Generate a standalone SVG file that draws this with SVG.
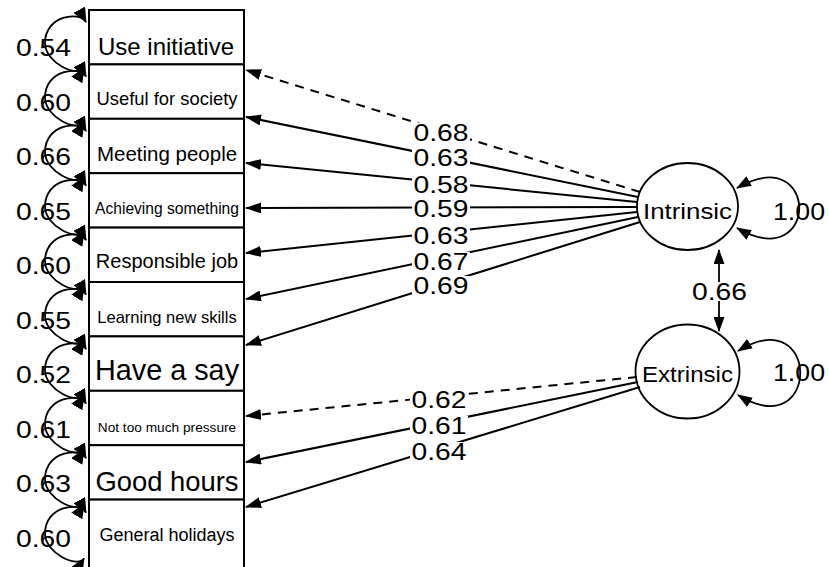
<svg xmlns="http://www.w3.org/2000/svg" xmlns:xlink="http://www.w3.org/1999/xlink" width="829" height="567" viewBox="0 0 829 567">
<style>
text{font-family:"Liberation Sans",Arial,sans-serif;fill:#000;text-anchor:middle}
.box{fill:#fff;stroke:#000;stroke-width:2}
.lat{fill:#fff;stroke:#000;stroke-width:1.8}
.e{fill:none;stroke:#000;stroke-width:2;marker-end:url(#ah)}
.d{stroke-dasharray:9 7}
.b{fill:none;stroke:#000;stroke-width:1.8;marker-start:url(#ah2);marker-end:url(#ah2)}
.r{fill:none;stroke:#000;stroke-width:1.8;marker-start:url(#ah3);marker-end:url(#ah3)}
.num{font-size:23.5px}
.res{font-size:24.5px}
.bg{fill:#fff}
</style>
<defs>
<marker id="ah" viewBox="0 0 16 11" refX="15" refY="5.5" markerWidth="16" markerHeight="11" markerUnits="userSpaceOnUse" orient="auto-start-reverse"><path d="M0,0 L16,5.5 L0,11 z" fill="#000"/></marker>
<marker id="ah2" viewBox="0 0 15 11" refX="14" refY="5.5" markerWidth="15" markerHeight="11" markerUnits="userSpaceOnUse" orient="auto-start-reverse"><path d="M0,0 L15,5.5 L0,11 z" fill="#000"/></marker>
<marker id="ah3" viewBox="0 0 15 13" refX="14" refY="6.5" markerWidth="15" markerHeight="13" markerUnits="userSpaceOnUse" orient="auto-start-reverse"><path d="M0,0 L15,6.5 L0,13 z" fill="#000"/></marker>
<path id="loop" class="r" d="M86,-25 C80,-36 45,-32 45,-4 C45,16 78,31 84,21"/>
</defs>

<g id="nodes">
<g id="n1"><rect class="box" x="89" y="10" width="155" height="54.4"/><text x="166" y="54.5" font-size="24">Use initiative</text></g>
<g id="n2"><rect class="box" x="89" y="64.4" width="155" height="54.4"/><text x="167" y="105" font-size="18.4">Useful for society</text></g>
<g id="n3"><rect class="box" x="89" y="118.8" width="155" height="54.4"/><text x="167" y="160.5" font-size="20.5">Meeting people</text></g>
<g id="n4"><rect class="box" x="89" y="173.2" width="155" height="54.4"/><text x="167" y="214" font-size="15.6">Achieving something</text></g>
<g id="n5"><rect class="box" x="89" y="227.6" width="155" height="54.4"/><text x="167" y="268" font-size="20">Responsible job</text></g>
<g id="n6"><rect class="box" x="89" y="282" width="155" height="54.4"/><text x="167" y="322.5" font-size="16.5">Learning new skills</text></g>
<g id="n7"><rect class="box" x="89" y="336.4" width="155" height="54.4"/><text x="167" y="380" font-size="28.8">Have a say</text></g>
<g id="n8"><rect class="box" x="89" y="390.8" width="155" height="54.4"/><text x="167" y="432" font-size="13.7">Not too much pressure</text></g>
<g id="n9"><rect class="box" x="89" y="445.2" width="155" height="54.4"/><text x="167" y="491" font-size="27.4">Good hours</text></g>
<g id="n10"><rect class="box" x="89" y="499.6" width="155" height="80"/><text x="167" y="541" font-size="18">General holidays</text></g>
<g id="intrinsic"><ellipse class="lat" cx="687.5" cy="206.5" rx="50.5" ry="43.5"/><text x="687.5" y="219" font-size="22" textLength="89" lengthAdjust="spacingAndGlyphs">Intrinsic</text></g>
<g id="extrinsic"><ellipse class="lat" cx="687.5" cy="371.5" rx="52" ry="47"/><text x="687.5" y="381.5" font-size="22" textLength="91" lengthAdjust="spacingAndGlyphs">Extrinsic</text></g>
</g>

<g id="connectors">
<path class="e d" d="M640,192 L246,70"/>
<path class="e" d="M638,197 L246,117"/>
<path class="e" d="M637,202 L246,163"/>
<path class="e" d="M637,207 L246,208"/>
<path class="e" d="M637,212 L246,253"/>
<path class="e" d="M638,217 L246,299"/>
<path class="e" d="M640,222 L246,345"/>
<path class="e d" d="M637,377 L246,416"/>
<path class="e" d="M638,382 L246,462"/>
<path class="e" d="M640,387 L246,507"/>
<path class="b" d="M719,250 L719,331"/>
<path class="b" d="M737,188 C820,140 820,276 737,228"/>
<path class="b" d="M738,351 C821,300 821,446 738,395"/>
<use xlink:href="#loop" href="#loop" transform="translate(0,47)"/>
<use xlink:href="#loop" href="#loop" transform="translate(0,101.5)"/>
<use xlink:href="#loop" href="#loop" transform="translate(0,156)"/>
<use xlink:href="#loop" href="#loop" transform="translate(0,210.5)"/>
<use xlink:href="#loop" href="#loop" transform="translate(0,265)"/>
<use xlink:href="#loop" href="#loop" transform="translate(0,319.5)"/>
<use xlink:href="#loop" href="#loop" transform="translate(0,374)"/>
<use xlink:href="#loop" href="#loop" transform="translate(0,428.5)"/>
<use xlink:href="#loop" href="#loop" transform="translate(0,483)"/>
<use xlink:href="#loop" href="#loop" transform="translate(0,537.5)"/>
</g>

<g id="edge-labels">
<rect class="bg" x="412" y="123" width="58" height="19"/><text class="num" x="441" y="141" textLength="55" lengthAdjust="spacingAndGlyphs">0.68</text>
<rect class="bg" x="412" y="148" width="58" height="19"/><text class="num" x="441" y="166" textLength="55" lengthAdjust="spacingAndGlyphs">0.63</text>
<rect class="bg" x="412" y="175" width="58" height="19"/><text class="num" x="441" y="193" textLength="55" lengthAdjust="spacingAndGlyphs">0.58</text>
<rect class="bg" x="412" y="199" width="58" height="19"/><text class="num" x="441" y="217" textLength="55" lengthAdjust="spacingAndGlyphs">0.59</text>
<rect class="bg" x="412" y="226" width="58" height="19"/><text class="num" x="441" y="244" textLength="55" lengthAdjust="spacingAndGlyphs">0.63</text>
<rect class="bg" x="412" y="252" width="58" height="19"/><text class="num" x="441" y="270" textLength="55" lengthAdjust="spacingAndGlyphs">0.67</text>
<rect class="bg" x="412" y="276" width="58" height="19"/><text class="num" x="441" y="294" textLength="55" lengthAdjust="spacingAndGlyphs">0.69</text>
<rect class="bg" x="410" y="390" width="58" height="19"/><text class="num" x="439" y="408" textLength="55" lengthAdjust="spacingAndGlyphs">0.62</text>
<rect class="bg" x="410" y="416" width="58" height="19"/><text class="num" x="439" y="434" textLength="55" lengthAdjust="spacingAndGlyphs">0.61</text>
<rect class="bg" x="410" y="442" width="58" height="19"/><text class="num" x="439" y="460" textLength="55" lengthAdjust="spacingAndGlyphs">0.64</text>
<rect class="bg" x="691" y="282" width="57" height="19"/><text class="num" x="719.5" y="300" textLength="55" lengthAdjust="spacingAndGlyphs">0.66</text>
<text class="num" x="799" y="220" font-size="24" textLength="52" lengthAdjust="spacingAndGlyphs">1.00</text>
<text class="num" x="799" y="381" font-size="24" textLength="52" lengthAdjust="spacingAndGlyphs">1.00</text>
<text class="res" x="43.5" y="56" textLength="55" lengthAdjust="spacingAndGlyphs">0.54</text>
<text class="res" x="43.5" y="110.5" textLength="55" lengthAdjust="spacingAndGlyphs">0.60</text>
<text class="res" x="43.5" y="165" textLength="55" lengthAdjust="spacingAndGlyphs">0.66</text>
<text class="res" x="43.5" y="219.5" textLength="55" lengthAdjust="spacingAndGlyphs">0.65</text>
<text class="res" x="43.5" y="274" textLength="55" lengthAdjust="spacingAndGlyphs">0.60</text>
<text class="res" x="43.5" y="328.5" textLength="55" lengthAdjust="spacingAndGlyphs">0.55</text>
<text class="res" x="43.5" y="383" textLength="55" lengthAdjust="spacingAndGlyphs">0.52</text>
<text class="res" x="43.5" y="437.5" textLength="55" lengthAdjust="spacingAndGlyphs">0.61</text>
<text class="res" x="43.5" y="492" textLength="55" lengthAdjust="spacingAndGlyphs">0.63</text>
<text class="res" x="43.5" y="546.5" textLength="55" lengthAdjust="spacingAndGlyphs">0.60</text>
</g>
</svg>
